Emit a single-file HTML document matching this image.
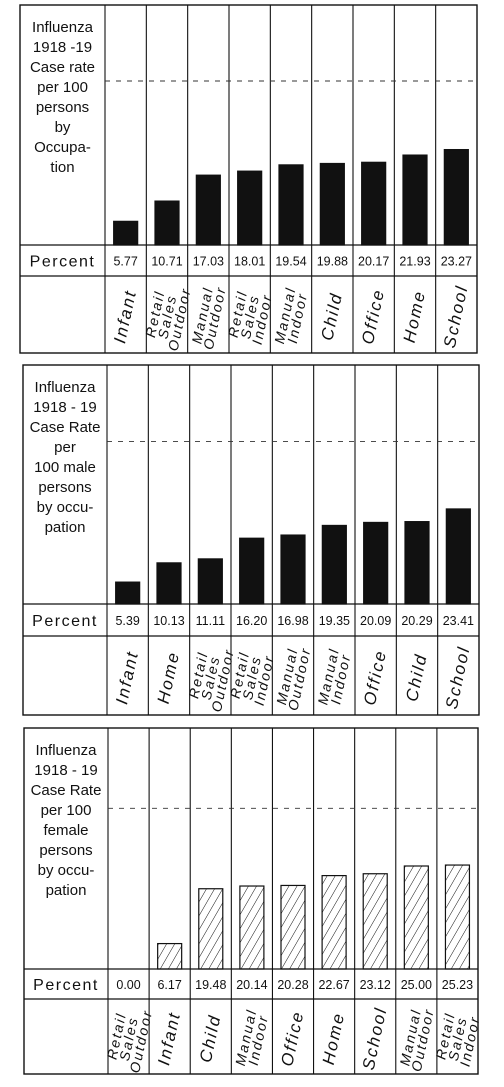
<!DOCTYPE html>
<html><head><meta charset="utf-8">
<style>
html,body{margin:0;padding:0;background:#fff;}
svg{display:block;}
text{font-family:"Liberation Sans",sans-serif;fill:#111;}
</style></head>
<body>
<svg id="chart" width="504" height="1087" viewBox="0 0 504 1087" xmlns="http://www.w3.org/2000/svg">
<defs>
<pattern id="hatch" patternUnits="userSpaceOnUse" width="7" height="7" patternTransform="rotate(30)">
<line x1="0" y1="0" x2="0" y2="7" stroke="#111" stroke-width="1"/>
</pattern>
</defs>
</svg>
<script>
const cats1 = ["Infant","Retail|Sales|Outdoor","Manual|Outdoor","Retail|Sales|Indoor","Manual|Indoor","Child","Office","Home","School"];
const vals1 = [5.77,10.71,17.03,18.01,19.54,19.88,20.17,21.93,23.27];
const labs1 = ["5.77","10.71","17.03","18.01","19.54","19.88","20.17","21.93","23.27"];
const cats2 = ["Infant","Home","Retail|Sales|Outdoor","Retail|Sales|Indoor","Manual|Outdoor","Manual|Indoor","Office","Child","School"];
const vals2 = [5.39,10.13,11.11,16.20,16.98,19.35,20.09,20.29,23.41];
const labs2 = ["5.39","10.13","11.11","16.20","16.98","19.35","20.09","20.29","23.41"];
const cats3 = ["Retail|Sales|Outdoor","Infant","Child","Manual|Indoor","Office","Home","School","Manual|Outdoor","Retail|Sales|Indoor"];
const vals3 = [0.00,6.17,19.48,20.14,20.28,22.67,23.12,25.00,25.23];
const labs3 = ["0.00","6.17","19.48","20.14","20.28","22.67","23.12","25.00","25.23"];
const titles1 = ["Influenza","1918 -19","Case rate","per 100","persons","by","Occupa-","tion"];
const titles2 = ["Influenza","1918 - 19","Case Rate","per","100 male","persons","by occu-","pation"];
const titles3 = ["Influenza","1918 - 19","Case Rate","per 100","female","persons","by occu-","pation"];

const svg = document.getElementById('chart');
const NS = 'http://www.w3.org/2000/svg';
function mk(tag, attrs, parent){
  const e = document.createElementNS(NS, tag);
  for (const k in attrs) e.setAttribute(k, attrs[k]);
  (parent||svg).appendChild(e);
  return e;
}
function panel(p, cats, vals, labs, titles){
  const g = mk('g', {});
  
  
  const n = cats.length;
  const colW = (p.right - p.first) / n;
  const xcol = i => p.first + i * colW;
  const y = v => p.base - v * p.scale;
  const fr = mk('rect', {x:p.left, y:p.top, width:p.right-p.left, height:p.bottom-p.top, fill:'none', stroke:'#111', 'stroke-width':1.4}, g);
  
  
  [p.base, p.pct].forEach(yy => mk('line', {x1:p.left, y1:yy, x2:p.right, y2:yy, stroke:'#111', 'stroke-width':1.2}, g));
  for (let i = 0; i < n; i++) mk('line', {x1:xcol(i), y1:p.top, x2:xcol(i), y2:p.bottom, stroke:'#111', 'stroke-width':1.1}, g);
  const dl = mk('line', {x1:p.first, y1:y(p.ref), x2:p.right, y2:y(p.ref), stroke:'#333', 'stroke-width':0.9, 'stroke-dasharray':'5 6'}, g);
  
  
  titles.forEach((t, k) => {
    const tx = mk('text', {x:(p.left+p.first)/2, y:p.top+27+k*20, 'font-size':15, 'text-anchor':'middle'}, g);
    tx.textContent = t;
    
    
  });
  const pt = mk('text', {x:(p.left+p.first)/2, y:(p.base+p.pct)/2+6, 'font-size':16, 'text-anchor':'middle', 'letter-spacing':'1.5'}, g);
  pt.textContent = 'Percent';
  
  
  for (let i = 0; i < n; i++){
    const cx = xcol(i) + colW/2;
    if (vals[i] > 0){
      const b = mk('rect', {x:cx-p.bw/2, y:y(vals[i]), width:p.bw, height:p.base-y(vals[i]), fill:p.hatch?'url(#hatch)':'#111', stroke:'#111', 'stroke-width':1.2}, g);
      
      
    }
    const vt = mk('text', {x:cx, y:(p.base+p.pct)/2+5, 'font-size':12.5, 'text-anchor':'middle'}, g);
    vt.textContent = labs[i];
    
    
    const lines = cats[i].split('|');
    const cy = (p.pct + p.bottom)/2 + 2;
    const lt = mk('g', {transform:`translate(${cx},${cy}) rotate(-78)`}, g);
    lines.forEach((ln, k) => {
      const t = mk('text', {x:0, y:(k-(lines.length-1)/2)*12.5+5, 'font-size':lines.length>1?14:17, 'font-style':'italic', 'text-anchor':'middle', 'letter-spacing':'2'}, lt);
      t.textContent = ln;
      
      
    });
  }
}
panel({name:'panel-all-persons', left:20, first:105, right:477, top:5, base:245, pct:276, bottom:353, scale:4.1, ref:40, bw:24, hatch:false}, cats1, vals1, labs1, titles1);
panel({name:'panel-male-persons', left:23, first:107, right:479, top:365, base:604, pct:636, bottom:715, scale:4.06, ref:40, bw:24, hatch:false}, cats2, vals2, labs2, titles2);
panel({name:'panel-female-persons', left:24, first:108, right:478, top:728, base:969, pct:999, bottom:1074, scale:4.12, ref:39, bw:24, hatch:true}, cats3, vals3, labs3, titles3);
</script>
</body></html>
